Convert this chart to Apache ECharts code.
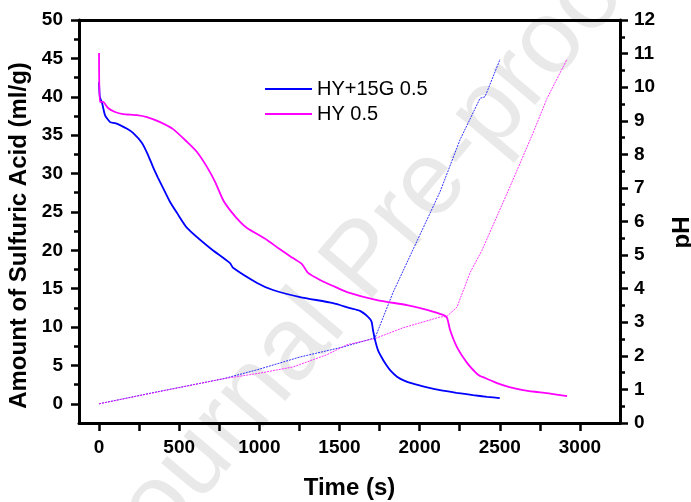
<!DOCTYPE html>
<html>
<head>
<meta charset="utf-8">
<script src="https://cdn.jsdelivr.net/npm/echarts@6/dist/echarts.min.js"></script>
<style>html,body{margin:0;padding:0;background:#fff;}#chart{width:691px;height:502px;}</style>
</head>
<body>
<div id="chart"></div>
<script>
// ---- data (time in s) ----
const seriesNames = ['HY+15G 0.5', 'HY 0.5'];
// pH curves (right axis)
const phBlue = [[0,10.15],[5,9.71],[19,9.53],[37,9.17],[69,8.96],[100,8.93],[131,8.87],[175,8.76],[212,8.64],[268,8.34],[306,7.98],[337,7.62],[368,7.30],[399,7.00],[443,6.58],[487,6.25],[549,5.81],[692,5.21],[817,4.76],[836,4.62],[986,4.17],[1085,3.96],[1254,3.75],[1460,3.57],[1566,3.42],[1628,3.34],[1678,3.16],[1700,3.02],[1709,2.77],[1722,2.47],[1740,2.17],[1760,1.98],[1785,1.78],[1820,1.55],[1859,1.38],[1900,1.27],[1959,1.17],[2040,1.07],[2127,0.98],[2230,0.90],[2333,0.83],[2420,0.78],[2500,0.74]];
const phMagenta = [[0,11.02],[5,9.56],[25,9.56],[56,9.38],[100,9.26],[150,9.20],[237,9.17],[299,9.11],[381,8.96],[462,8.75],[549,8.37],[611,8.07],[674,7.62],[724,7.18],[774,6.64],[817,6.34],[880,5.99],[923,5.81],[1048,5.45],[1117,5.21],[1210,4.91],[1266,4.73],[1304,4.47],[1379,4.26],[1460,4.08],[1547,3.90],[1734,3.66],[1921,3.51],[2046,3.37],[2146,3.22],[2171,3.13],[2190,2.77],[2233,2.26],[2296,1.79],[2350,1.50],[2377,1.40],[2408,1.34],[2483,1.19],[2560,1.07],[2645,0.98],[2720,0.93],[2795,0.89],[2920,0.80]];
// amount of sulfuric acid (left axis)
const acidBlue = [[0,0],[362,1.56],[774,3.26],[986,4.43],[1254,6.1],[1522,7.4],[1722,8.6],[1834,14.5],[1959,20.1],[2127,27.6],[2252,34.4],[2377,39.8],[2408,40.0],[2502,44.9]];
const acidMagenta = [[0,0],[774,3.26],[1004,4.0],[1210,4.8],[1422,6.4],[1547,7.7],[1722,8.5],[1896,9.9],[2127,11.3],[2171,11.4],[2233,12.6],[2315,17.1],[2389,20.0],[2564,28.3],[2708,35.3],[2795,39.8],[2920,44.9]];
// ticks
const xLabels = [0,500,1000,1500,2000,2500,3000];
const xTicks = [0,250,500,750,1000,1250,1500,1750,2000,2250,2500,2750,3000];
const yLeftMajor = [0,5,10,15,20,25,30,35,40,45,50];
const yLeftMinor = [2.5,7.5,12.5,17.5,22.5,27.5,32.5,37.5,42.5,47.5];

const FONT = 'Liberation Sans, Arial, sans-serif';
const BLUE = '#0000ff', MAG = '#ff00ff';
const chart = echarts.init(document.getElementById('chart'), null, {renderer:'canvas'});
const labelStyle = {color:'#000', fontFamily:FONT, fontWeight:'bold', fontSize:19, formatter:function(v){return String(v);}};
chart.setOption({
  animation:false,
  backgroundColor:'#fff',
  graphic:[{type:'text', z:-10, x:365, y:262, rotation:0.87, silent:true,
    style:{text:'Journal Pre-proof', font:'104px ' + FONT, fill:'rgba(0,0,0,0.085)', textAlign:'center', textVerticalAlign:'middle'}}],
  grid:{left:79, right:71, top:20, bottom:79, outerBoundsMode:'none', containLabel:false},
  legend:{data:seriesNames, orient:'vertical', left:265, top:79, padding:0, itemGap:5, icon:'rect', itemWidth:47, itemHeight:2,
    textStyle:{fontFamily:FONT, fontSize:20, color:'#000'}},
  xAxis:[
    {type:'value', position:'bottom', min:-125, max:3250,
      name:'Time (s)', nameLocation:'middle', nameGap:53, nameTextStyle:{fontFamily:FONT, fontWeight:'bold', fontSize:24, color:'#000'},
      axisLine:{show:true, onZero:false, lineStyle:{color:'#000', width:3}},
      axisTick:{show:true, customValues:xTicks, length:8, lineStyle:{color:'#000', width:2.5}},
      axisLabel:Object.assign({customValues:xLabels, margin:15}, labelStyle),
      splitLine:{show:false}},
    {type:'value', position:'top', min:-125, max:3250,
      axisLine:{show:true, onZero:false, lineStyle:{color:'#000', width:3}},
      axisTick:{show:false}, axisLabel:{show:false}, splitLine:{show:false}}
  ],
  yAxis:[
    {type:'value', position:'left', min:-2.5, max:50,
      name:'Amount of Sulfuric Acid (ml/g)', nameLocation:'middle', nameGap:43, nameRotate:90,
      nameTextStyle:{fontFamily:FONT, fontWeight:'bold', fontSize:24, color:'#000', padding:[0,28,0,0]},
      axisLine:{show:true, onZero:false, lineStyle:{color:'#000', width:3}},
      axisTick:{show:true, customValues:yLeftMajor, length:8, lineStyle:{color:'#000', width:2.5}},
      axisLabel:Object.assign({customValues:yLeftMajor, margin:16}, labelStyle),
      splitLine:{show:false}},
    {type:'value', position:'right', min:0, max:12, interval:1,
      name:'pH', nameLocation:'middle', nameGap:50, nameRotate:90,
      nameTextStyle:{fontFamily:FONT, fontWeight:'bold', fontSize:24, color:'#000', padding:[0,22,0,0]},
      axisLine:{show:true, onZero:false, lineStyle:{color:'#000', width:3}},
      axisTick:{show:true, length:8, lineStyle:{color:'#000', width:2.5}},
      minorTick:{show:true, splitNumber:2, length:5, lineStyle:{color:'#000', width:2.5}},
      axisLabel:Object.assign({margin:14}, labelStyle),
      splitLine:{show:false}, minorSplitLine:{show:false}},
    {type:'value', position:'left', offset:0, min:-2.5, max:50,
      axisLine:{show:false, onZero:false}, axisLabel:{show:false}, splitLine:{show:false},
      axisTick:{show:true, customValues:yLeftMinor, length:5, lineStyle:{color:'#000', width:2.5}}}
  ],
  series:[
    {name:seriesNames[0], type:'line', yAxisIndex:1, data:phBlue, showSymbol:false, symbol:'none', smooth:0.2,
      lineStyle:{color:BLUE, width:1.8}, itemStyle:{color:BLUE}, z:3},
    {name:seriesNames[1], type:'line', yAxisIndex:1, data:phMagenta, showSymbol:false, symbol:'none', smooth:0.2,
      lineStyle:{color:MAG, width:1.8}, itemStyle:{color:MAG}, z:3},
    {name:seriesNames[0] + ' acid', type:'line', yAxisIndex:0, data:acidBlue, showSymbol:false, symbol:'none',
      lineStyle:{color:BLUE, width:1, type:[2,1], opacity:0.8}, itemStyle:{color:BLUE}, z:2},
    {name:seriesNames[1] + ' acid', type:'line', yAxisIndex:0, data:acidMagenta, showSymbol:false, symbol:'none',
      lineStyle:{color:MAG, width:1, type:[2,1], opacity:0.8}, itemStyle:{color:MAG}, z:2}
  ]
});
</script>
</body>
</html>
